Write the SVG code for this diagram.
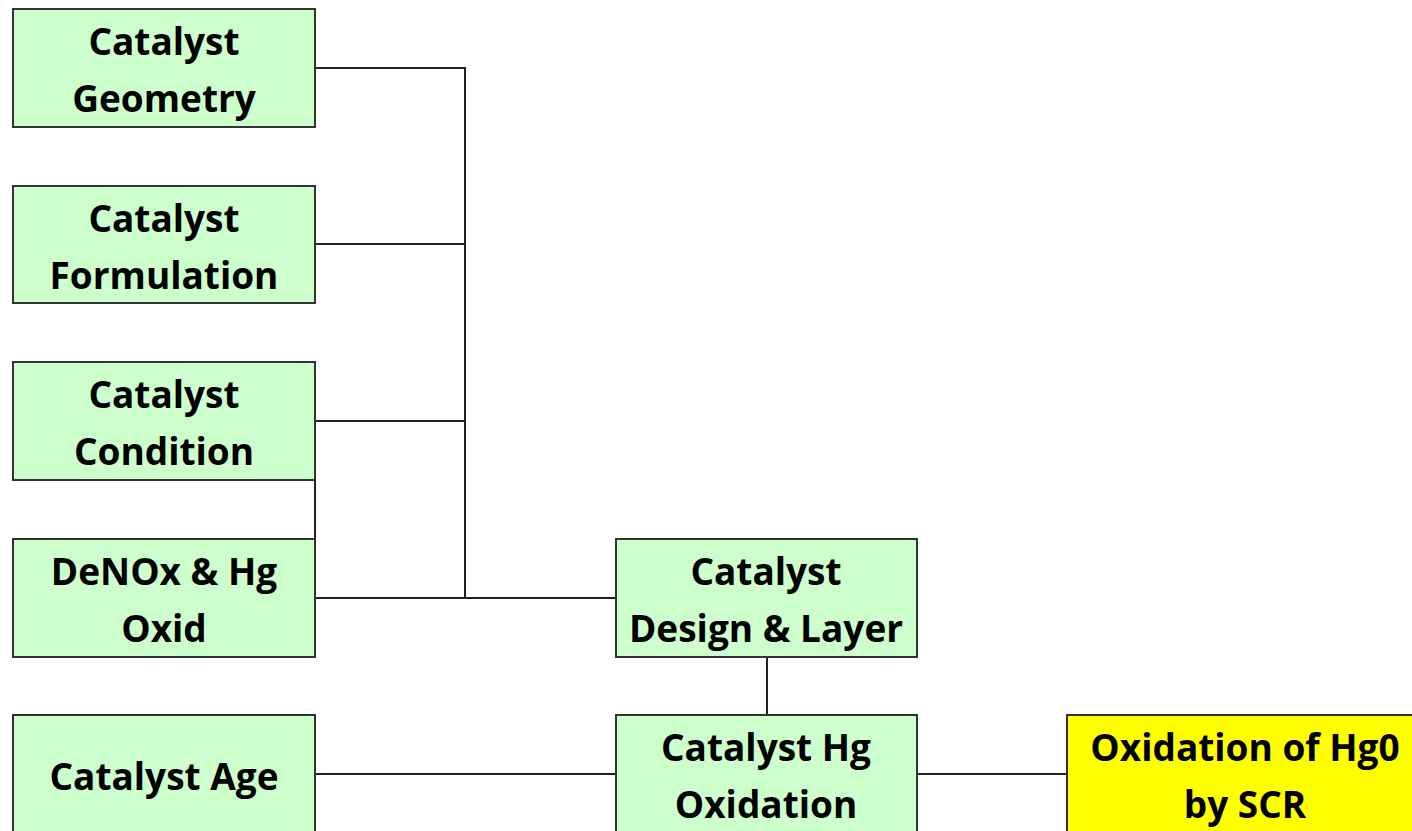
<svg xmlns="http://www.w3.org/2000/svg" width="1412" height="831" viewBox="0 0 1412 831">
<style>
.box{fill:#CCFFCC;stroke:#333;stroke-width:2}
.hi{fill:#FFFF00;stroke:#333;stroke-width:2}
.t{font-family:"Open Sans","Noto Sans",sans-serif;font-weight:bold;font-size:37px;fill:#000;text-anchor:middle}
.c{fill:none;stroke:#222;stroke-width:2}
</style>
<rect width="1412" height="831" fill="#fff"/>
<g id="connectors">
<path class="c" d="M315 68H465V598M315 244H465M315 421H465M315 598H616M315 480V539M767 657V715M315 774H616M917 774H1067"/>
</g>
<g id="geometry"><rect class="box" x="13" y="9" width="302" height="118"/><text class="t" x="164" y="55">Catalyst</text><text class="t" x="164" y="112">Geometry</text></g>
<g id="formulation"><rect class="box" x="13" y="186" width="302" height="117"/><text class="t" x="164" y="232">Catalyst</text><text class="t" x="164" y="289">Formulation</text></g>
<g id="condition"><rect class="box" x="13" y="362" width="302" height="118"/><text class="t" x="164" y="408">Catalyst</text><text class="t" x="164" y="465">Condition</text></g>
<g id="denox"><rect class="box" x="13" y="539" width="302" height="118"/><text class="t" x="164" y="585">DeNOx &amp; Hg</text><text class="t" x="164" y="642">Oxid</text></g>
<g id="age"><rect class="box" x="13" y="715" width="302" height="120"/><text class="t" x="164" y="790">Catalyst Age</text></g>
<g id="design"><rect class="box" x="616" y="539" width="301" height="118"/><text class="t" x="766" y="585">Catalyst</text><text class="t" x="766" y="642">Design &amp; Layer</text></g>
<g id="hgox"><rect class="box" x="616" y="715" width="301" height="120"/><text class="t" x="766" y="761">Catalyst Hg</text><text class="t" x="766" y="818">Oxidation</text></g>
<g id="result"><rect class="hi" x="1067" y="715" width="356" height="120"/><text class="t" x="1245" y="761">Oxidation of Hg0</text><text class="t" x="1245" y="818">by SCR</text></g>
</svg>
